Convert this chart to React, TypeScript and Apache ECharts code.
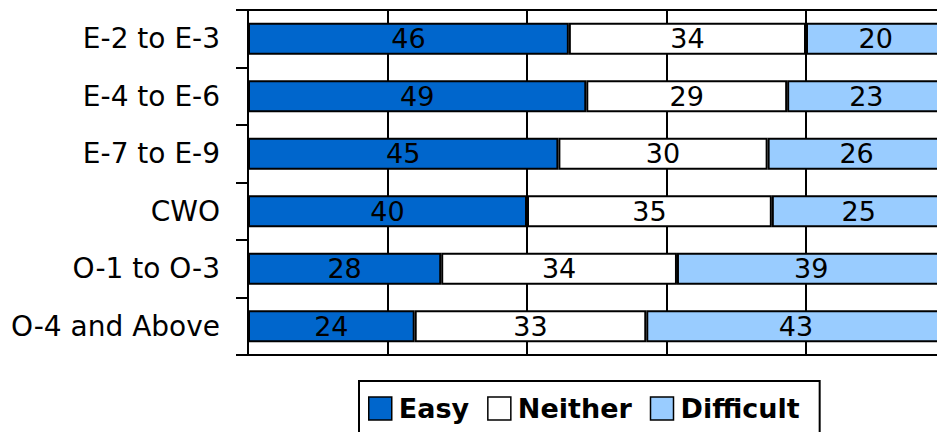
import React, { useEffect, useRef } from "react";
import * as echarts from "echarts";

const categories = ["E-2 to E-3", "E-4 to E-6", "E-7 to E-9", "CWO", "O-1 to O-3", "O-4 and Above"];
const easy = [46.0, 48.5, 44.5, 40.0, 27.7, 23.9];
const neither = [34.0, 28.8, 30.0, 35.1, 33.8, 33.2];
const difficult = [20.0, 22.7, 25.5, 24.9, 38.5, 42.9];
const seriesNames = ["Easy", "Neither", "Difficult"];
const seriesColors = ["#0066CC", "#FFFFFF", "#99CCFF"];

export default function App() {
  const ref = useRef<HTMLDivElement>(null);
  useEffect(() => {
    if (!ref.current) return;
    const chart = echarts.init(ref.current, undefined, { renderer: "svg" });
    const values = [easy, neither, difficult];
    chart.setOption({
      animation: false,
      backgroundColor: "#FFFFFF",
      grid: {
        left: 248,
        right: 0.5,
        top: 10,
        bottom: 77,
        show: true,
        borderColor: "#000",
        borderWidth: 2,
        backgroundColor: "transparent",
      },
      legend: {
        left: 359,
        top: 381,
        orient: "horizontal",
        icon: "rect",
        itemWidth: 23,
        itemHeight: 23,
        itemGap: 18,
        padding: [14, 20, 14, 9],
        borderColor: "#000",
        borderWidth: 2,
        data: seriesNames,
        itemStyle: { borderColor: "#000", borderWidth: 1.5 },
        textStyle: {
          fontFamily: "DejaVu Sans",
          fontWeight: "bold",
          fontSize: 27,
          color: "#000",
          padding: [0, 0, 0, 2],
        },
      },
      xAxis: {
        type: "value",
        min: 0,
        max: 100,
        interval: 20,
        axisLabel: { show: false },
        axisTick: { show: false },
        axisLine: { show: true, lineStyle: { color: "#000", width: 2 } },
        splitLine: { show: true, lineStyle: { color: "#000", width: 2 } },
      },
      yAxis: {
        type: "category",
        data: categories,
        inverse: true,
        axisLine: { show: true, lineStyle: { color: "#000", width: 2 } },
        axisTick: { show: true, length: 12, lineStyle: { color: "#000", width: 2 } },
        axisLabel: {
          margin: 28,
          fontFamily: "DejaVu Sans",
          fontSize: 28,
          color: "#000",
        },
      },
      series: seriesNames.map((name, i) => ({
        name,
        type: "bar",
        stack: "total",
        barWidth: 32,
        data: values[i],
        itemStyle: { color: seriesColors[i], borderColor: "#000", borderWidth: 2 },
        label: {
          show: true,
          position: "inside",
          fontFamily: "DejaVu Sans",
          fontSize: 27,
          color: "#000",
          formatter: (p: any) => String(Math.round(p.value)),
        },
      })),
    });
    return () => chart.dispose();
  }, []);
  return (
    <div
      ref={ref}
      style={{ position: "fixed", left: 0, top: 0, width: 946, height: 432 }}
    />
  );
}
